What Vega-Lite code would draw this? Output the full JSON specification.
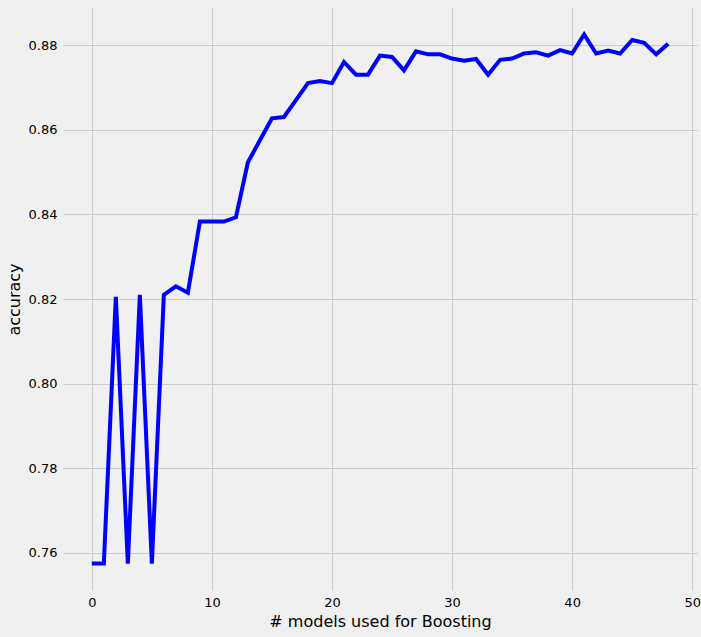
{
"$schema":"https://vega.github.io/schema/vega-lite/v6.json",
"width":634,"height":582,
"autosize":{"type":"none"},
"padding":{"left":63,"top":8,"right":4,"bottom":47},
"background":"#f0f0f0",
"config":{"view":{"stroke":null,"fill":"#f0f0f0"},"font":"DejaVu Sans"},
"data":{"values":[
{"n":0,"a":0.7575},{"n":1,"a":0.7575},{"n":2,"a":0.8205},{"n":3,"a":0.7575},{"n":4,"a":0.821},{"n":5,"a":0.7575},{"n":6,"a":0.821},{"n":7,"a":0.823},{"n":8,"a":0.8215},{"n":9,"a":0.8383},{"n":10,"a":0.8383},{"n":11,"a":0.8383},{"n":12,"a":0.8393},{"n":13,"a":0.8523},{"n":14,"a":0.8575},{"n":15,"a":0.8627},{"n":16,"a":0.863},{"n":17,"a":0.867},{"n":18,"a":0.871},{"n":19,"a":0.8715},{"n":20,"a":0.871},{"n":21,"a":0.876},{"n":22,"a":0.873},{"n":23,"a":0.873},{"n":24,"a":0.8775},{"n":25,"a":0.8772},{"n":26,"a":0.874},{"n":27,"a":0.8785},{"n":28,"a":0.8778},{"n":29,"a":0.8778},{"n":30,"a":0.8768},{"n":31,"a":0.8763},{"n":32,"a":0.8767},{"n":33,"a":0.873},{"n":34,"a":0.8765},{"n":35,"a":0.8768},{"n":36,"a":0.878},{"n":37,"a":0.8783},{"n":38,"a":0.8775},{"n":39,"a":0.8788},{"n":40,"a":0.878},{"n":41,"a":0.8825},{"n":42,"a":0.878},{"n":43,"a":0.8787},{"n":44,"a":0.878},{"n":45,"a":0.8812},{"n":46,"a":0.8805},{"n":47,"a":0.8778},{"n":48,"a":0.8803}
]},
"mark":{"type":"line","color":"#0000ff","strokeWidth":4,"clip":true},
"encoding":{
"x":{"field":"n","type":"quantitative","scale":{"domain":[-2.4,50.4],"nice":false,"zero":false},
"axis":{"values":[0,10,20,30,40,50],"title":"# models used for Boosting","titleFontSize":16,"titleFontWeight":"normal","titleColor":"#000","labelFontSize":13,"labelColor":"#000","domain":false,"ticks":false,"gridColor":"#cbcbcb","gridWidth":1,"labelPadding":6,"titlePadding":4}},
"y":{"field":"a","type":"quantitative","scale":{"domain":[0.75125,0.88875],"nice":false,"zero":false},
"axis":{"values":[0.76,0.78,0.80,0.82,0.84,0.86,0.88],"format":".2f","title":"accuracy","titleFontSize":16,"titleFontWeight":"normal","titleColor":"#000","labelFontSize":13,"labelColor":"#000","domain":false,"ticks":false,"gridColor":"#cbcbcb","gridWidth":1,"labelPadding":6,"titlePadding":6}}
}
}
